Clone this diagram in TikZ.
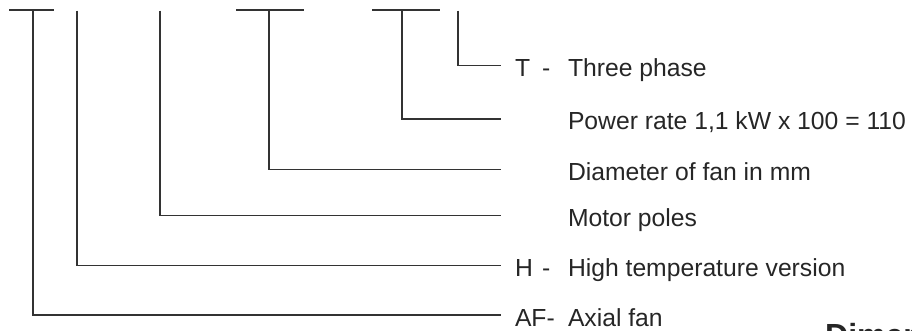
\documentclass[tikz,border=0pt]{standalone}
\usepackage{fontspec}
\setmainfont{Liberation Sans}
\begin{document}
\begin{tikzpicture}[x=1pt,y=-1pt,
  conn/.style={draw=black!80, line width=1.3pt},
  lbl/.style={anchor=base west, inner sep=0pt, outer sep=0pt, text=black!85,
    font=\fontsize{24.7}{28}\selectfont},
  headline/.style={anchor=base west, inner sep=0pt, text=black!85,
    font=\fontsize{32}{36}\selectfont\bfseries}]
\useasboundingbox (0,0) rectangle (912,331);
\clip (0,0) rectangle (912,331);
% top bars
\coordinate (b1l) at (9,10);   \coordinate (b1r) at (54,10);
\coordinate (b4l) at (236,10); \coordinate (b4r) at (304,10);
\coordinate (b5l) at (372,10); \coordinate (b5r) at (440,10);
\draw[conn] (b1l) -- (b1r);
\draw[conn] (b4l) -- (b4r);
\draw[conn] (b5l) -- (b5r);
% top points of the verticals
\coordinate (t1) at (33,10);
\coordinate (t2) at (77,32/3);
\coordinate (t3) at (160,32/3);
\coordinate (t4) at (269,10);
\coordinate (t5) at (402,10);
\coordinate (t6) at (458,32/3);
% end points
\coordinate (e6) at (500.5,65.7);
\coordinate (e5) at (500.5,119);
\coordinate (e4) at (500.5,169.3);
\coordinate (e3) at (500.5,215.7);
\coordinate (e2) at (500.5,265.7);
\coordinate (e1) at (500.5,315);
% connectors
\draw[conn] (t6) |- (e6);
\draw[conn] (t5) |- (e5);
\draw[conn] (t4) |- (e4);
\draw[conn] (t3) |- (e3);
\draw[conn] (t2) |- (e2);
\draw[conn] (t1) |- (e1);
% labels
\node[lbl] (p6) at (515,76.5) {T};
\node[lbl] (d6) at (542,76.5) {-};
\node[lbl] (l6) at (568,76.5) {Three phase};
\node[lbl] (l5) at (568,129.5) {Power rate 1,1 kW x 100 = 110};
\node[lbl] (l4) at (568,180) {Diameter of fan in mm};
\node[lbl] (l3) at (568,226.5) {Motor poles};
\node[lbl] (p2) at (515,276.5) {H};
\node[lbl] (d2) at (542,276.5) {-};
\node[lbl] (l2) at (568,276.5) {High temperature version};
\node[lbl] (p1) at (515,326) {AF-};
\node[lbl] (l1) at (568,326) {Axial fan};
\node[headline] (dim) at (825,346) {Dimensions};
\end{tikzpicture}
\end{document}
